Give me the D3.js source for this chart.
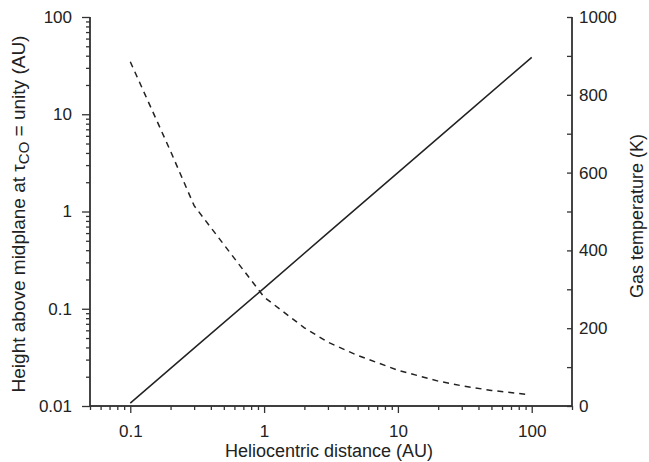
<!DOCTYPE html>
<html><head><meta charset="utf-8">
<script src="https://cdn.jsdelivr.net/npm/d3@7"></script>
<style>body{margin:0;background:#fff}svg{display:block}text{font-family:"Liberation Sans",Arial,sans-serif;fill:#222}</style>
</head><body><svg id="c" width="649" height="462"></svg>
<script>
// Height above midplane (AU) vs heliocentric distance (AU) — solid line, left log axis
const heightR = [0.1, 0.3, 1, 3, 10, 30, 100];
const heightH = [0.0107, 0.0394, 0.163, 0.603, 2.51, 9.23, 38.4];
// Gas temperature (K) vs heliocentric distance (AU) — dashed line, right linear axis
const tempR = [0.1, 0.2, 0.3, 0.5, 1, 2, 3, 5, 10, 20, 30, 50, 90];
const tempT = [885, 655, 515, 415, 280, 201, 164, 130, 92, 64, 52, 40, 30];
const xTickLabels = [0.1, 1, 10, 100];
const yLeftTickLabels = [0.01, 0.1, 1, 10, 100];
const yRightTickLabels = [0, 200, 400, 600, 800, 1000];

const svg = d3.select("#c");
const L = 90, R = 572, T = 17, B = 406;
const x = d3.scaleLog().domain([0.05, 200]).range([L, R]);
const yL = d3.scaleLog().domain([0.01, 100]).range([B, T]);
const yR = d3.scaleLinear().domain([0, 1000]).range([B, T]);
const axisCol = "#333";
const tickFont = "17px";

function logMinors(lo, hi) {
  const out = [];
  for (let e = Math.floor(Math.log10(lo)); e <= Math.ceil(Math.log10(hi)); e++) {
    for (let m = 1; m <= 9; m++) {
      const v = m * Math.pow(10, e);
      if (v >= lo * 0.999 && v <= hi * 1.001) out.push(v);
    }
  }
  return out;
}
const fmt = d => String(d);
const isMajor = (arr, v) => arr.some(t => Math.abs(t - v) / t < 1e-6);

// bottom axis
const gx = svg.append("g").attr("transform", `translate(0,${B})`);
gx.call(d3.axisBottom(x).tickValues(logMinors(0.05, 200).filter(v => !isMajor(xTickLabels, v))).tickSize(4).tickFormat(""));
const gx2 = svg.append("g").attr("transform", `translate(0,${B})`);
gx2.call(d3.axisBottom(x).tickValues(xTickLabels).tickSize(7).tickPadding(12).tickFormat(fmt));

// left axis
const gl = svg.append("g").attr("transform", `translate(${L},0)`);
gl.call(d3.axisLeft(yL).tickValues(logMinors(0.01, 100).filter(v => !isMajor(yLeftTickLabels, v))).tickSize(4).tickFormat(""));
const gl2 = svg.append("g").attr("transform", `translate(${L},0)`);
gl2.call(d3.axisLeft(yL).tickValues(yLeftTickLabels).tickSize(8).tickPadding(10).tickFormat(fmt));

// right axis (ticks inward)
const gr = svg.append("g").attr("transform", `translate(${R},0)`);
gr.call(d3.axisRight(yR).tickValues(d3.range(100, 1000, 200)).tickSize(-5).tickFormat(""));
const gr2 = svg.append("g").attr("transform", `translate(${R},0)`);
gr2.call(d3.axisRight(yR).tickValues(yRightTickLabels).tickSize(-5).tickFormat(fmt));
gr2.selectAll(".tick text").attr("x", 7);

svg.selectAll(".domain").attr("stroke", axisCol).attr("stroke-width", 1.4);
svg.selectAll(".tick line").attr("stroke", axisCol).attr("stroke-width", 1.3);
svg.selectAll(".tick text").style("font-size", tickFont).attr("fill", "#222");
[gx, gx2].forEach(g => g.select(".domain").attr("d", `M${L},0H${R}`));
[gl, gl2, gr, gr2].forEach(g => g.select(".domain").attr("d", `M0,${B}V${T}`));

// lines
const hData = heightR.map((r, i) => [r, heightH[i]]);
const tData = tempR.map((r, i) => [r, tempT[i]]);
svg.append("path").datum(hData)
  .attr("d", d3.line().x(d => x(d[0])).y(d => yL(d[1])))
  .attr("fill", "none").attr("stroke", "#222").attr("stroke-width", 1.5);
svg.append("path").datum(tData)
  .attr("d", d3.line().x(d => x(d[0])).y(d => yR(d[1])))
  .attr("fill", "none").attr("stroke", "#222").attr("stroke-width", 1.5)
  .attr("stroke-dasharray", "6,5");

// axis titles
svg.append("text").attr("x", 329).attr("y", 457).attr("text-anchor", "middle")
  .style("font-size", "18px").text("Heliocentric distance (AU)");
const yt = svg.append("text").attr("transform", `translate(25,214) rotate(-90)`)
  .attr("text-anchor", "middle").style("font-size", "19px");
yt.append("tspan").text("Height above midplane at \u03C4");
yt.append("tspan").attr("baseline-shift", "-25%").style("font-size", "15px").text("CO");
yt.append("tspan").text(" = unity (AU)");
svg.append("text").attr("transform", `translate(643,216) rotate(-90)`)
  .attr("text-anchor", "middle").style("font-size", "18px").text("Gas temperature (K)");
</script></body></html>
